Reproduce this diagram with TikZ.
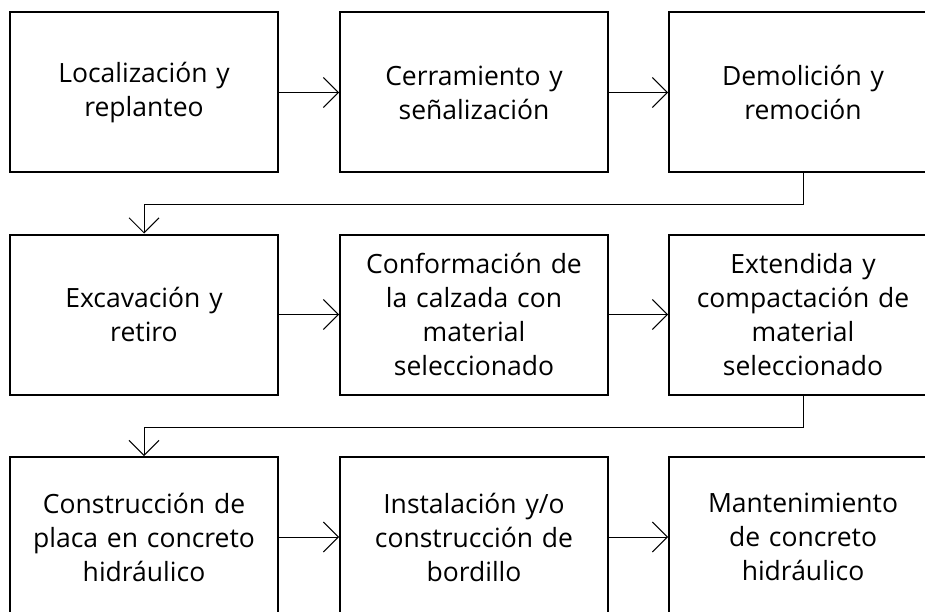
\documentclass[tikz,border=0pt]{standalone}
\usepackage{fontspec}
\setmainfont{Open Sans}
\usetikzlibrary{arrows.meta,calc}
\tikzset{
  stepbox/.style={draw, line width=2pt, rectangle, minimum width=268pt, minimum height=160pt,
    align=center, text width=262pt, font=\fontsize{26.5}{34}\selectfont, inner sep=0pt},
  conn/.style={line width=1pt, -{Straight Barb[length=15pt,width=30pt,line width=1pt]}}
}
\begin{document}
\begin{tikzpicture}[x=1pt,y=1pt]
\useasboundingbox (0,0) rectangle (925,-612);
\clip (0,0) rectangle (925,-612);
\node[stepbox] (b1) at (144,-92.5) {Localización y\\replanteo};
\node[stepbox] (b2) at (474,-92.5) {Cerramiento y\\señalización};
\node[stepbox] (b3) at (803,-92.5) {Demolición y\\remoción};
\node[stepbox] (b4) at (144,-314.5) {Excavación y\\retiro};
\node[stepbox] (b5) at (474,-314.5) {Conformación de\\la calzada con\\material\\seleccionado};
\node[stepbox] (b6) at (803,-314.5) {Extendida y\\compactación de\\material\\seleccionado};
\node[stepbox] (b7) at (144,-537) {Construcción de\\placa en concreto\\hidráulico};
\node[stepbox] (b8) at (474,-537) {Instalación y/o\\construcción de\\bordillo};
\node[stepbox] (b9) at (803,-537) {Mantenimiento\\de concreto\\hidráulico};
\draw[conn] (b1) -- (b2);
\draw[conn] (b2) -- (b3);
\draw[conn] (b4) -- (b5);
\draw[conn] (b5) -- (b6);
\draw[conn] (b7) -- (b8);
\draw[conn] (b8) -- (b9);
\draw[conn] (b3.south) -- ++(0,-31) -| (b4.north);
\draw[conn] (b6.south) -- ++(0,-31.5) -| (b7.north);
\end{tikzpicture}
\end{document}
